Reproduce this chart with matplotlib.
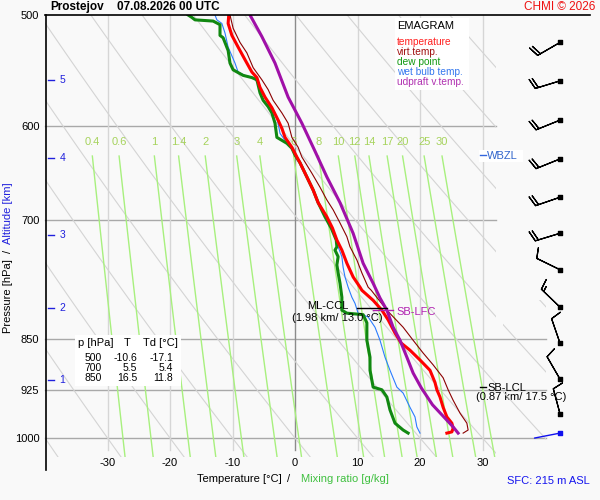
import numpy as np
import matplotlib
matplotlib.use("Agg")
import matplotlib.pyplot as plt
from matplotlib.lines import Line2D
from matplotlib.patches import Rectangle

plt.rcParams["font.family"] = ["Liberation Sans", "DejaVu Sans"]

# ---- sounding (p in hPa, T in degC) ----
temp_p = [500, 507, 517, 527, 538, 549, 554, 563, 572, 582, 594, 602, 611, 621, 631, 637, 652, 666, 680, 696,
          709, 723, 735, 751, 768, 781, 785, 798, 811, 824, 842, 856, 866, 880, 895, 913, 924, 935, 951, 966,
          976, 984, 990, 992]
temp_t = [-10.6, -10.7, -10.1, -9.1, -8.0, -6.9, -6.1, -5.6, -4.8, -3.7, -2.7, -2.1, -1.6, -0.5, 0.3, 0.8, 1.9, 2.9,
          3.7, 5.1, 6.0, 6.7, 7.5, 8.3, 9.3, 10.4, 10.7, 12.5, 13.9, 14.9, 16.0, 17.0, 18.4, 20.0, 21.6, 22.4, 22.7,
          23.2, 23.7, 24.3, 25.1, 25.3, 25.1, 24.3]

virt_p = [500, 511, 523, 532, 545, 556, 565, 575, 587, 597, 611, 621, 631, 648, 663, 677, 688, 703, 719, 731,
          747, 763, 781, 785, 811, 834, 852, 870, 887, 906, 924, 940, 960, 976, 987, 992]
virt_t = [-10.4, -9.9, -8.8, -7.7, -6.7, -5.3, -4.3, -3.5, -2.1, -1.1, -0.5, 0.5, 1.1, 2.7, 4.0, 5.1, 6.1, 7.2,
          8.3, 8.8, 9.9, 10.7, 11.7, 12.2, 14.7, 17.3, 18.9, 20.5, 22.1, 23.7, 24.5, 25.3, 26.4, 27.5, 27.7, 26.9]

dew_p = [500, 502, 504, 505, 508, 517, 519, 530, 541, 547, 552, 554, 556, 568, 575, 581, 587, 597, 611, 614,
         617, 622, 629, 637, 652, 666, 680, 696, 709, 723, 731, 735, 743, 753, 763, 776, 794, 811, 815, 817,
         828, 852, 876, 895, 920, 924, 935, 955, 976, 987, 992]
dew_t = [-17.1, -16.5, -16.0, -13.1, -12.0, -12.0, -11.5, -10.7, -10.4, -9.9, -8.3, -6.9, -6.1, -5.6, -5.1, -4.3,
         -3.7, -3.2, -2.9, -2.1, -1.3, -0.5, 0.0, 0.8, 1.9, 2.9, 3.7, 4.8, 5.8, 6.6, 6.7, 6.4, 6.9, 6.7, 6.9,
         7.2, 7.5, 7.5, 8.3, 10.9, 11.5, 11.5, 12.0, 12.0, 12.5, 13.9, 14.7, 15.2, 16.0, 17.3, 18.1]

wet_p = [500, 504, 507, 515, 527, 541, 549, 552, 554, 559, 568, 578, 587, 597, 607, 614, 617, 624, 631, 637,
         652, 666, 680, 696, 709, 723, 731, 743, 756, 768, 781, 794, 802, 815, 820, 834, 852, 876, 895, 920,
         929, 951, 966, 982, 992]
wet_t = [-12.8, -12.5, -11.7, -11.2, -10.7, -9.6, -9.1, -8.0, -6.7, -5.9, -5.1, -4.3, -3.2, -2.7, -2.4, -1.6,
         -1.1, -0.3, 0.3, 0.8, 1.9, 2.9, 3.7, 4.8, 5.8, 6.6, 6.9, 7.5, 7.7, 8.0, 8.5, 9.1, 9.6, 10.1, 11.7,
         12.8, 13.6, 14.4, 15.2, 16.3, 17.3, 18.4, 19.2, 19.5, 20.0]

updr_p = [500, 518, 541, 572, 597, 625, 652, 680, 715, 751, 776, 795, 811, 834, 852, 876, 899, 921, 947, 968,
          982, 992]
updr_t = [-7.2, -5.3, -3.2, -1.1, 1.1, 3.2, 5.1, 7.2, 9.3, 10.9, 12.5, 13.6, 14.7, 15.7, 16.8, 17.9, 18.9, 20.2,
          22.0, 24.0, 25.3, 26.1]

# winds (direction deg, speed kt) at the barb levels
wind_p = [523, 557, 594, 633, 674, 715, 759, 807, 856, 908, 961]
wind_dir = [240, 253, 248, 248, 251, 253, 296, 314, 341, 330, 345]
wind_spd = [20, 20, 20, 20, 20, 20, 10, 15, 10, 10, 10]
sfc_p, sfc_dir = 992, 259

# axis stuff
p_ticks = [500, 600, 700, 850, 925, 1000]
t_ticks = [-30, -20, -10, 0, 10, 20, 30]
alt_km = [1, 2, 3, 4, 5]
alt_p = [909, 808, 717, 632, 556]
mix_labels = ["0.4", "0.6", "1", "1.4", "2", "3", "4", "6", "8", "10", "12", "14", "17", "20", "25", "30"]
theta_1000 = list(range(-60, 140, 10))

tab_p = [500, 700, 850]
tab_t = [-10.6, 5.5, 16.5]
tab_td = [-17.1, 5.4, 11.8]


def mix_td(w, p):
    e = w * p / (622.0 + w)
    a = np.log(e / 6.112)
    return 243.5 * a / (17.67 - a)


def dry_t(t0, p):
    return (t0 + 273.15) * (p / 1000.0) ** 0.2857 - 273.15


W, H = 600, 500
BG = "#f9f9f9"
P_BOT = 1031.6
fig = plt.figure(figsize=(6, 5), dpi=100, facecolor=BG)

ax = fig.add_axes([45 / W, 1 - 457 / H, 451 / W, 442 / H])
ax.set_facecolor(BG)
ax.set_yscale("log")
ax.set_ylim(P_BOT, 500)
ax.set_xlim(-40, 32.16)
for s in ax.spines.values():
    s.set_visible(False)

ax.set_yticks(p_ticks)
ax.set_yticklabels([str(p) for p in p_ticks])
ax.yaxis.set_minor_locator(matplotlib.ticker.NullLocator())
ax.set_xticks(t_ticks)
ax.set_xticklabels([str(t) for t in t_ticks])
ax.tick_params(axis="y", length=0, pad=4, labelsize=8)
ax.tick_params(axis="x", length=0, pad=0.5, labelsize=8)

# grid
for p in p_ticks[1:]:
    xmax = 1.111 if p >= 850 else 1.0
    ax.axhline(p, color="#a9a9a9", lw=1, xmax=xmax, clip_on=False, zorder=1)
for t in t_ticks:
    ax.axvline(t, color="#8c8c8c" if t == 0 else "#d6d6d6", lw=1, ymin=0.016, zorder=1)

# dry adiabats
pp = np.geomspace(500, P_BOT, 80)
for t0 in theta_1000:
    ax.plot(dry_t(t0, pp), pp, color="#d4d4d4", lw=0.8, zorder=1)

# same adiabats continue in the strip right of the plot (lower part)
axs = fig.add_axes([503 / W, 1 - 457 / H, 43 / W, 157 / H])
axs.set_yscale("log")
axs.set_ylim(P_BOT, 797.6)
axs.set_xlim(33.28, 40.16)
axs.axis("off")
for t0 in theta_1000:
    axs.plot(dry_t(t0, pp), pp, color="#d4d4d4", lw=0.8)

# mixing ratio lines
pm = np.linspace(630, P_BOT, 40)
for lab in mix_labels:
    w = float(lab)
    ax.plot(mix_td(w, pm), pm, color="#a8f07e", lw=1, zorder=1.5)
    ax.text(mix_td(w, 630), 616, lab, color="#a6d35c", fontsize=8, ha="center", va="center", zorder=2)

# profiles
ax.plot(wet_t, wet_p, color="#2a7cff", lw=0.8, zorder=3)
ax.plot(dew_t, dew_p, color="#118811", lw=2.2, zorder=4)
ax.plot(virt_t, virt_p, color="#8b0000", lw=0.8, zorder=5)
ax.plot(temp_t, temp_p, color="#ff0000", lw=2.2, zorder=6)
ax.plot(updr_t, updr_p, color="#a010a8", lw=2.2, zorder=7)

# altitude ticks
for km, p in zip(alt_km, alt_p):
    ax.plot([-39.6, -38.6], [p, p], color="#2020dd", lw=1, zorder=8)
    ax.text(-37.7, p, str(km), color="#2020dd", fontsize=7.5, va="center", ha="left", zorder=8)

# levels
ax.plot([9.9, 14.7], [808, 808], color="k", lw=1, zorder=8)
ax.text(5.3, 806, "ML-CCL", fontsize=8, ha="center", va="center", zorder=9)
ax.text(6.8, 822, "(1.98 km/ 13.0 °C)", fontsize=8, ha="center", va="center", zorder=9)
ax.plot([12.5, 15.7], [811, 811], color="#b020b0", lw=1, zorder=8)
ax.text(16.3, 813, "SB-LFC", color="#b020b0", fontsize=8, ha="left", va="center", zorder=9)
ax.plot([29.6, 30.6], [920, 920], color="k", lw=1, zorder=8, clip_on=False)
ax.text(30.8, 921, "SB-LCL", fontsize=8, ha="left", va="center", zorder=9, clip_on=False)
ax.text(29.0, 935, "(0.87 km/ 17.5 °C)", fontsize=8, ha="left", va="center", zorder=9, clip_on=False)

# WBZL
fig.add_artist(Rectangle((479 / W, 1 - 162 / H), 44 / W, 12 / H, transform=fig.transFigure,
                         facecolor="white", edgecolor="none", zorder=2))
fig.add_artist(Line2D([480 / W, 486 / W], [1 - 155 / H] * 2, color="#3366dd", lw=1, zorder=3))
fig.text(487 / W, 1 - 156 / H, "WBZL", color="#3366cc", fontsize=8, va="center", ha="left", zorder=3)

# frame lines
fig.add_artist(Line2D([45 / W, 590 / W], [1 - 15 / H] * 2, color="k", lw=1.2))
fig.add_artist(Line2D([45.5 / W, 45.5 / W], [1 - 15 / H, 1 - 470 / H], color="k", lw=1.2))

# legend box
fig.add_artist(Rectangle((395 / W, 1 - 90 / H), 74 / W, 72 / H, transform=fig.transFigure,
                         facecolor="white", edgecolor="none", zorder=2))
fig.text(397 / W, 1 - 26 / H, "EMAGRAM", fontsize=8, va="center", ha="left", zorder=3)
leg = [("temperature", "#ff2020"), ("virt.temp.", "#a01010"), ("dew point", "#119911"),
       ("wet bulb temp.", "#3377ee"), ("udpraft v.temp.", "#b030b0")]
for i, (lab, c) in enumerate(leg):
    fig.text(397 / W, 1 - (42 + 10 * i) / H, lab, color=c, fontsize=7.3, va="center", ha="left", zorder=3)

# stats table
fig.add_artist(Rectangle((75 / W, 1 - 386 / H), 106 / W, 51 / H, transform=fig.transFigure,
                         facecolor="white", edgecolor="none", zorder=2))
fig.text(78 / W, 1 - 343 / H, "p [hPa]", fontsize=8, va="center", ha="left", zorder=3)
fig.text(127 / W, 1 - 343 / H, "T", fontsize=8, va="center", ha="center", zorder=3)
fig.text(143 / W, 1 - 343 / H, "Td [°C]", fontsize=8, va="center", ha="left", zorder=3)
for i in range(len(tab_p)):
    yy = 1 - (358 + 10 * i) / H
    fig.text(102 / W, yy, str(tab_p[i]), fontsize=7.5, va="center", ha="right", zorder=3)
    fig.text(137 / W, yy, "%.1f" % tab_t[i], fontsize=7.5, va="center", ha="right", zorder=3)
    fig.text(173 / W, yy, "%.1f" % tab_td[i], fontsize=7.5, va="center", ha="right", zorder=3)

# wind barbs
axw = fig.add_axes([520 / W, 1 - 457 / H, 80 / W, 442 / H])
axw.set_yscale("log")
axw.set_ylim(P_BOT, 500)
axw.set_xlim(0, 1)
axw.axis("off")
d = np.radians(wind_dir)
u = -np.array(wind_spd) * np.sin(d)
v = -np.array(wind_spd) * np.cos(d)
axw.barbs(np.full(len(wind_p), 0.5), wind_p, u, v, length=6.1, lw=0.9, color="k")
axw.scatter(np.full(len(wind_p), 0.5), wind_p, marker="s", s=5, color="k", zorder=5)
ds = np.radians(sfc_dir)
axw.annotate("", xy=(0.5, sfc_p), xytext=(18.7 * np.sin(ds), 18.7 * np.cos(ds)), textcoords="offset points",
             arrowprops=dict(arrowstyle="-", color="#1010ee", lw=1, shrinkA=0, shrinkB=0))
axw.scatter([0.5], [sfc_p], marker="s", s=5, color="#1010ee", zorder=5)

# titles and labels
fig.text(50 / W, 1 - 7 / H, "Prostejov", fontsize=8.5, fontweight="bold", va="center", ha="left")
fig.text(117 / W, 1 - 7 / H, "07.08.2026 00 UTC", fontsize=8.5, fontweight="bold", va="center", ha="left")
fig.text(595 / W, 1 - 7 / H, "CHMI © 2026", color="#ee1111", fontsize=8.5, va="center", ha="right")
fig.text(8 / W, 1 - 296 / H, "Pressure [hPa]", rotation=90, fontsize=8, va="center", ha="center")
fig.text(8 / W, 1 - 251 / H, "/", rotation=90, fontsize=8, va="center", ha="center")
fig.text(8 / W, 1 - 213 / H, "Altitude [km]", rotation=90, color="#2020dd", fontsize=8, va="center", ha="center")
fig.text(239 / W, 1 - 479 / H, "Temperature [°C]", fontsize=8, va="center", ha="center")
fig.text(289 / W, 1 - 479 / H, "/", fontsize=8, va="center", ha="center")
fig.text(345 / W, 1 - 479 / H, "Mixing ratio [g/kg]", color="#40c040", fontsize=8, va="center", ha="center")
fig.text(590 / W, 1 - 481 / H, "SFC: 215 m ASL", color="#1515ee", fontsize=8, va="center", ha="right")

fig.savefig("out.png", dpi=100, facecolor=BG)
